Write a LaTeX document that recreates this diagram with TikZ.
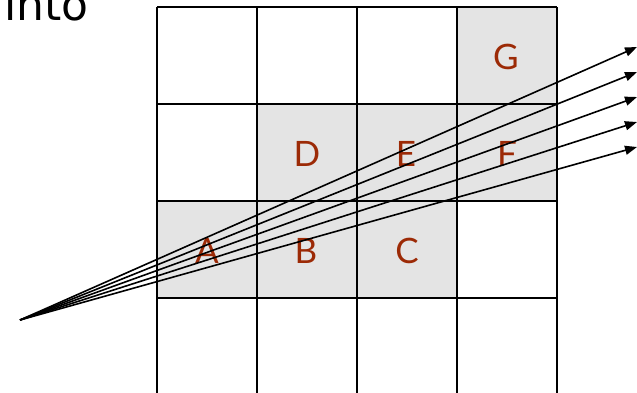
\documentclass[tikz,border=0pt]{standalone}
\usepackage{fontspec}
\usepackage{tikz}
\usetikzlibrary{arrows.meta}
\newfontfamily\cellfont{Lato}
\newfontfamily\wordfont{DejaVu Sans}
\definecolor{cellc}{RGB}{228,228,228}
\definecolor{letterc}{RGB}{156,42,6}
\tikzset{
  hitcell/.style = {fill=cellc},
  gridline/.style = {draw=black, line width=1.9pt},
  letter/.style = {text=letterc, inner sep=0pt, font=\cellfont\fontsize{35}{40}\selectfont},
  ray/.style = {-{Triangle[length=12pt,width=9pt]}, line width=1.6pt},
}
\begin{document}
\begin{tikzpicture}[x=1pt,y=-1pt]
\clip (0,0) rectangle (637,392);
\fill[white] (0,0) rectangle (637,392);

\node[anchor=base west, inner sep=0pt, font=\wordfont\fontsize{44}{48}\selectfont] (into) at (4,20) {into};

% cells that the rays pass through
\fill[hitcell] (457,7) rectangle (557,104);
\fill[hitcell] (257,104) rectangle (557,201);
\fill[hitcell] (157,201) rectangle (457,298);

\foreach \gx in {157,257,357,457,557}
  \draw[gridline] (\gx,7) -- (\gx,400);
\foreach \gy in {7,104,201,298}
  \draw[gridline] (157,\gy) -- (557,\gy);

\node[letter] (G) at (506,57) {G};
\node[letter] (D) at (307,154) {D};
\node[letter] (E) at (406,154) {E};
\node[letter] (F) at (507,154) {F};
\node[letter] (A) at (207,251) {A};
\node[letter] (B) at (306,251) {B};
\node[letter] (C) at (407,251) {C};

\coordinate (src) at (20,320);
\coordinate (t1) at (637,47);
\coordinate (t2) at (637,72);
\coordinate (t3) at (637,97);
\coordinate (t4) at (637,122);
\coordinate (t5) at (637,147);

\draw[ray] (src) -- (t1);
\draw[ray] (src) -- (t2);
\draw[ray] (src) -- (t3);
\draw[ray] (src) -- (t4);
\draw[ray] (src) -- (t5);
\end{tikzpicture}
\end{document}
